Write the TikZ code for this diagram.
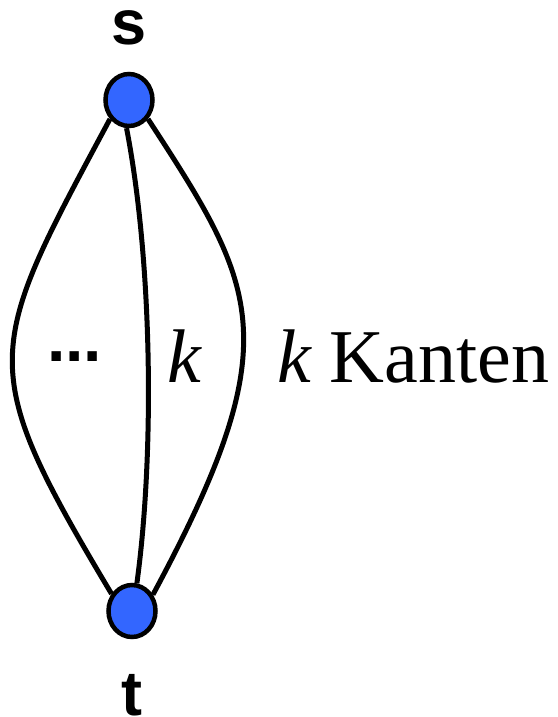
\documentclass[tikz,border=0pt]{standalone}
\usepackage{fontspec}
\setmainfont{Liberation Serif}
\newfontfamily\labelsans{Liberation Sans}
\usetikzlibrary{shapes.geometric}
\pgfdeclarelayer{edgelayer}
\pgfsetlayers{edgelayer,main}
\definecolor{nodeblue}{HTML}{3366FF}
\tikzset{
  vert/.style={ellipse, draw=black, line width=4.5pt, fill=nodeblue, minimum width=47pt, minimum height=52pt, inner sep=0pt},
  edge/.style={draw=black, line width=5pt},
  vlabel/.style={font=\labelsans\bfseries\fontsize{63}{70}\selectfont, inner sep=0pt, anchor=base},
  txt/.style={font=\fontsize{76}{80}\selectfont, inner sep=0pt, anchor=base west}
}
\begin{document}
\begin{tikzpicture}[x=1pt,y=-1pt]
\useasboundingbox (0,0) rectangle (557,717);
\node[vert] (s) at (129,100) {};
\node[vert] (t) at (132,611) {};
\node[vlabel] (sl) at (129,45) {s};
\node[vlabel] (tl) at (132,715) {t};
\begin{pgfonlayer}{edgelayer}
\draw[edge] (s.225) .. controls (-15,352) and (-26,364) .. (t.140);
\draw[edge] (s.265) .. controls (152,260) and (155,450) .. (t.80);
\draw[edge] (s.315) .. controls (258,288) and (290,340) .. (t.38);
\end{pgfonlayer}
\node[font=\labelsans\bfseries\fontsize{66}{70}\selectfont, inner sep=0pt, anchor=base west] (dots) at (47,361) {...};
\node[txt] (k1) at (167,382) {\itshape k};
\node[txt] (k2) at (277,382) {\itshape k\upshape{} Kanten};
\end{tikzpicture}
\end{document}
